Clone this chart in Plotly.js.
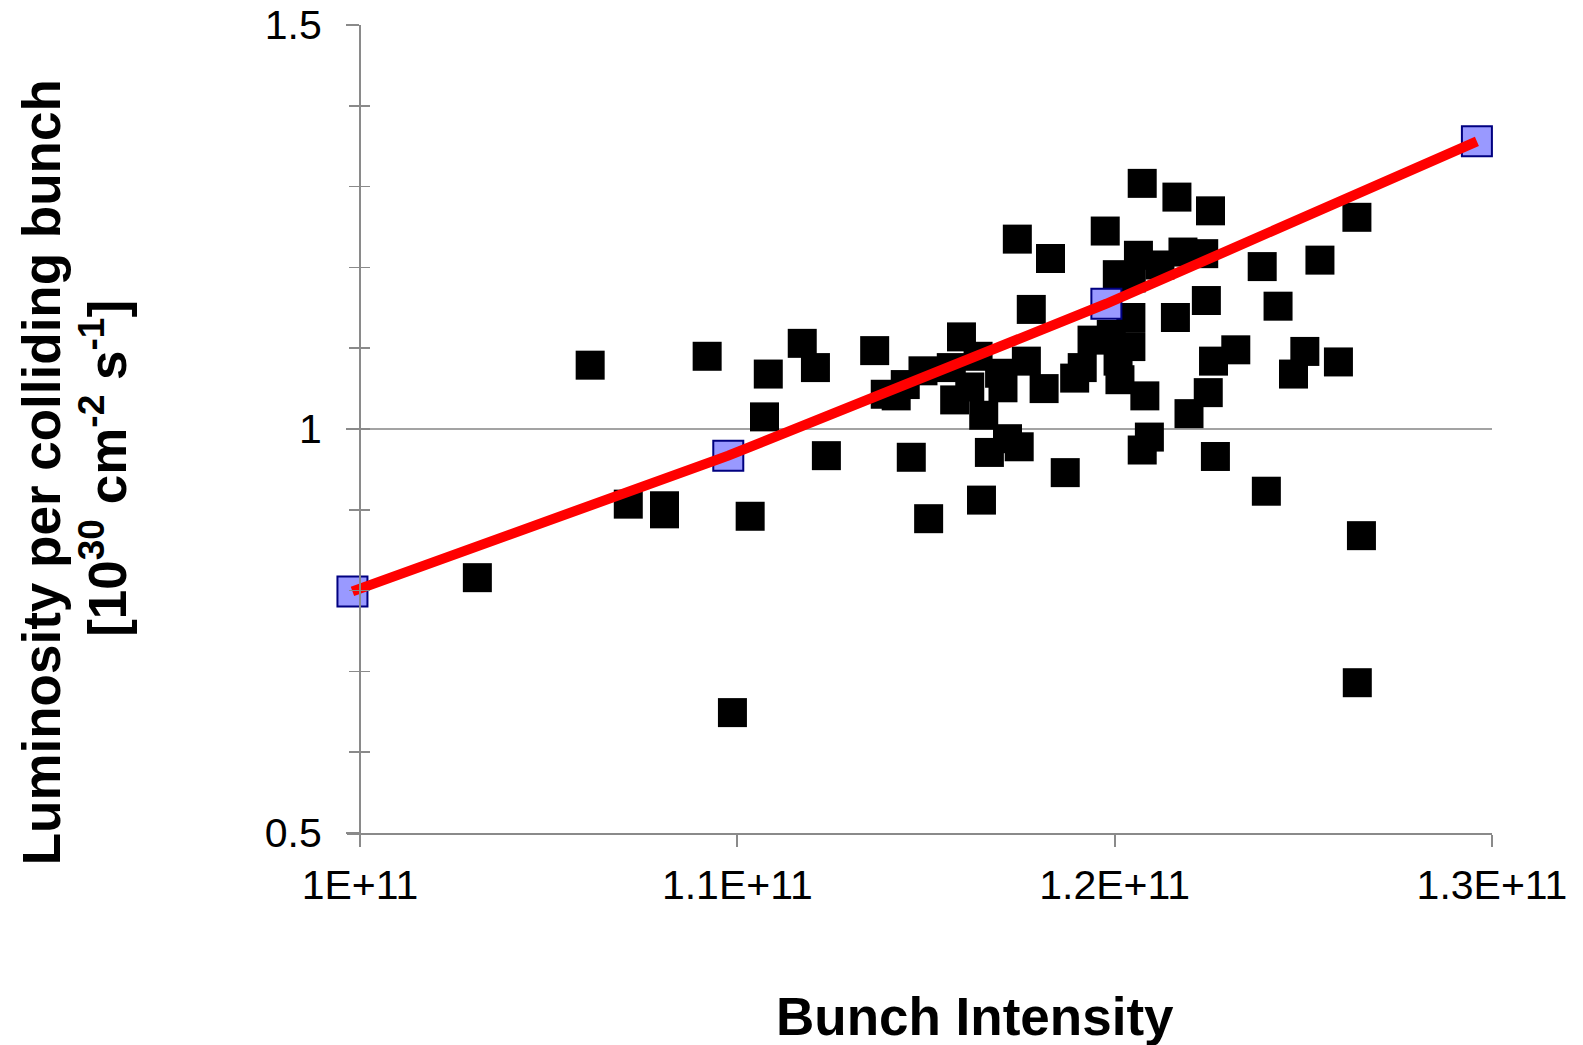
<!DOCTYPE html>
<html>
<head>
<meta charset="utf-8">
<script src="https://cdn.plot.ly/plotly-3.0.1.min.js"></script>
<style>html,body{margin:0;padding:0;background:#fff;}#chart{width:1583px;height:1045px;}</style>
</head>
<body>
<div id="chart"></div>
<script>
// Measured bunches: bunch intensity (protons) and luminosity per colliding bunch [1e30 cm^-2 s^-1]
const intensity = [
  1.0311e11, 1.0610e11, 1.0711e11, 1.0807e11, 1.0807e11, 1.0920e11, 1.0987e11, 1.1034e11,
  1.1072e11, 1.1082e11, 1.1172e11, 1.1207e11, 1.1236e11, 1.1364e11, 1.1392e11, 1.1421e11,
  1.1445e11, 1.1461e11, 1.1492e11, 1.1507e11, 1.1567e11, 1.1576e11, 1.1594e11, 1.1616e11,
  1.1638e11, 1.1647e11, 1.1653e11, 1.1668e11, 1.1695e11, 1.1704e11, 1.1716e11, 1.1747e11,
  1.1742e11, 1.1766e11, 1.1779e11, 1.1813e11, 1.1830e11, 1.1869e11, 1.1894e11, 1.1914e11,
  1.1940e11, 1.1975e11, 1.1991e11, 1.2007e11, 1.2009e11, 1.2014e11, 1.2044e11, 1.2043e11,
  1.2043e11, 1.2063e11, 1.2073e11, 1.2073e11, 1.2080e11, 1.2092e11, 1.2120e11, 1.2161e11,
  1.2165e11, 1.2181e11, 1.2197e11, 1.2236e11, 1.2243e11, 1.2248e11, 1.2254e11, 1.2262e11,
  1.2267e11, 1.2321e11, 1.2391e11, 1.2402e11, 1.2433e11, 1.2474e11, 1.2504e11, 1.2544e11,
  1.2593e11, 1.2642e11, 1.2654e11, 1.2643e11
];
const luminosity = [
  0.816, 1.079, 0.907, 0.905, 0.895, 1.090, 0.649, 0.892,
  1.015, 1.068, 1.106, 1.076, 0.967, 1.097, 1.043, 1.041,
  1.055, 0.965, 1.072, 0.889, 1.076, 1.036, 1.114, 1.052,
  1.090, 0.912, 1.017, 0.971, 1.069, 1.051, 0.988, 0.978,
  1.235, 1.084, 1.148, 1.050, 1.211, 0.946, 1.063, 1.076,
  1.110, 1.245, 1.117, 1.191, 1.084, 1.061, 1.187, 1.138,
  1.102, 1.215, 1.304, 0.974, 1.041, 0.990, 1.203, 1.138,
  1.287, 1.219, 1.019, 1.217, 1.159, 1.045, 1.270, 1.084,
  0.966, 1.098, 1.201, 0.923, 1.152, 1.068, 1.096, 1.209,
  1.083, 1.262, 0.868, 0.686
];
// Fit curve points
const fitIntensity = [0.9980e11, 1.0976e11, 1.1978e11, 1.2960e11];
const fitLuminosity = [0.799, 0.967, 1.155, 1.356];

// Axis ticks and titles
const xTickVals = [1.0e11, 1.1e11, 1.2e11, 1.3e11];
const xTickText = ["1E+11", "1.1E+11", "1.2E+11", "1.3E+11"];
const yRange = [0.5, 1.5];
const xTitle = "Bunch Intensity";
const yTitleLine1 = "Luminosity per colliding bunch";
const yTitleLine2 = "[10<sup>30</sup> cm<sup>-2</sup> s<sup>-1</sup>]";

const FONT = "Liberation Sans, Arial, Helvetica, sans-serif";
const AXIS = "#8a8a8a";
const yPos = 13 / 1145;

const traces = [
  {
    x: intensity, y: luminosity, type: "scatter", mode: "markers",
    marker: {symbol: "square", size: 29, color: "#000000", line: {width: 0}},
    xaxis: "x", yaxis: "y", hoverinfo: "x+y", showlegend: false
  },
  {
    x: fitIntensity, y: fitLuminosity, type: "scatter", mode: "markers",
    marker: {symbol: "square", size: 30, color: "#9999ff", line: {width: 2, color: "#000080"}},
    cliponaxis: false, xaxis: "x", yaxis: "y2", showlegend: false
  },
  {
    x: fitIntensity, y: fitLuminosity, type: "scatter", mode: "lines",
    line: {color: "#ff0000", width: 10},
    xaxis: "x", yaxis: "y2", showlegend: false
  }
];

const layout = {
  width: 1583, height: 1045,
  margin: {l: 347, r: 91, t: 25, b: 212, pad: 0},
  paper_bgcolor: "#ffffff", plot_bgcolor: "#ffffff",
  font: {family: FONT, color: "#000000"},
  showlegend: false,
  xaxis: {
    range: [1e11 - 13 / 37.73 * 1e9, 1.3e11],
    tickmode: "array", tickvals: xTickVals, ticktext: xTickText,
    ticks: "outside", ticklen: 12, tickwidth: 2, tickcolor: AXIS,
    showline: true, linecolor: AXIS, linewidth: 2,
    showgrid: false, zeroline: false,
    tickfont: {family: FONT, size: 41, color: "#000000"},
    ticklabelstandoff: 3
  },
  yaxis: {
    range: yRange, anchor: "free", position: yPos,
    tickmode: "linear", tick0: 0.5, dtick: 0.5,
    ticks: "outside", ticklen: 13, tickwidth: 2, tickcolor: AXIS,
    minor: {tickmode: "linear", tick0: 0.5, dtick: 0.1, ticks: "outside", ticklen: 10, tickwidth: 1.5, tickcolor: AXIS, showgrid: false},
    showline: true, linecolor: AXIS, linewidth: 2,
    showgrid: true, gridcolor: "#a3a3a3", gridwidth: 1.3,
    zeroline: false,
    tickfont: {family: FONT, size: 41, color: "#000000"},
    ticklabelstandoff: 16
  },
  yaxis2: {
    range: yRange, overlaying: "y", anchor: "free", position: yPos, side: "left",
    tickmode: "linear", tick0: 0.5, dtick: 0.5,
    ticks: "inside", ticklen: 9, tickwidth: 2, tickcolor: AXIS,
    minor: {tickmode: "linear", tick0: 0.5, dtick: 0.1, ticks: "inside", ticklen: 9, tickwidth: 1.5, tickcolor: AXIS, showgrid: false},
    showticklabels: false, showline: false, showgrid: false, zeroline: false
  },
  annotations: [
    {
      text: "<b>" + yTitleLine1 + "</b>",
      xref: "paper", yref: "paper", x: -0.2672, y: 0.4464,
      xanchor: "center", yanchor: "middle", textangle: -90, showarrow: false,
      font: {family: FONT, size: 53, color: "#000000"}
    },
    {
      text: "<b>" + yTitleLine2 + "</b>",
      xref: "paper", yref: "paper", x: -0.2122, y: 0.4507,
      xanchor: "center", yanchor: "middle", textangle: -90, showarrow: false,
      font: {family: FONT, size: 53, color: "#000000"}
    },
    {
      text: "<b>" + xTitle + "</b>",
      xref: "paper", yref: "paper", x: 0.5485, y: -0.2277,
      xanchor: "center", yanchor: "middle", showarrow: false,
      font: {family: FONT, size: 53, color: "#000000"}
    }
  ]
};

Plotly.newPlot("chart", traces, layout, {displayModeBar: false, staticPlot: true});
</script>
</body>
</html>
